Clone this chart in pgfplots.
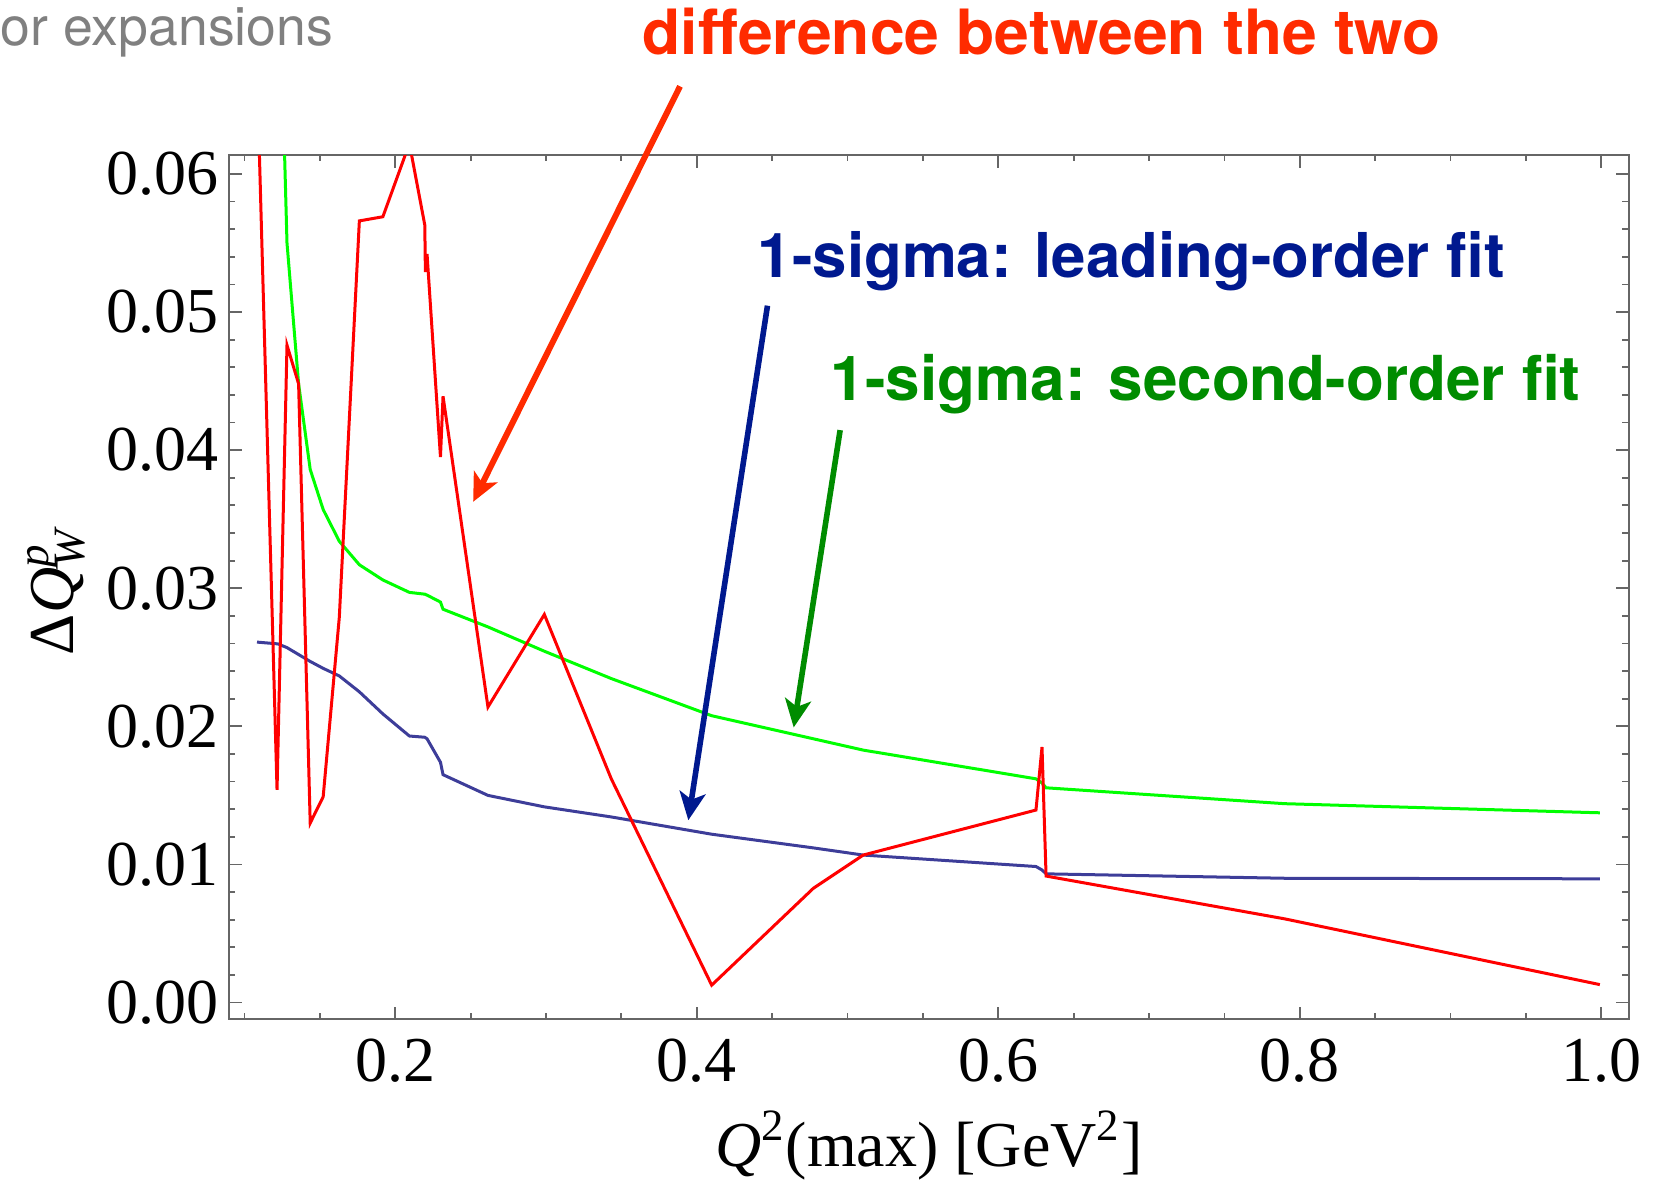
\documentclass[border=0pt]{standalone}
\usepackage{fontspec}
\setmainfont{Liberation Serif}
\newfontfamily\helv{TeX Gyre Heros}
\usepackage{pgfplots}
\pgfplotsset{compat=1.18}
\usetikzlibrary{arrows.meta}
\definecolor{lineblue}{rgb}{0.24,0.24,0.6}
\definecolor{linegreen}{rgb}{0,1,0}
\definecolor{linered}{rgb}{1,0,0}
\definecolor{annred}{rgb}{1,0.17,0}
\definecolor{annblue}{rgb}{0,0.1,0.56}
\definecolor{anngreen}{rgb}{0,0.55,0}
\definecolor{framegray}{rgb}{0.4,0.4,0.4}

\pgfplotstableread{
x y
0.1083 0.0677
0.1216 0.0154
0.1282 0.0476
0.1359 0.0448
0.1436 0.0130
0.1522 0.0149
0.1629 0.0279
0.1762 0.0566
0.1918 0.0569
0.2094 0.0622
0.2196 0.0563
0.2200 0.0529
0.2211 0.0542
0.2300 0.0395
0.2317 0.0439
0.2615 0.0214
0.2989 0.0281
0.3433 0.0162
0.4099 0.00126
0.4773 0.00827
0.5104 0.01068
0.6250 0.01394
0.6290 0.0185
0.6317 0.00916
0.7900 0.00606
0.9990 0.0013
}\diffdata

\pgfplotstableread{
x y
0.1083 0.0261
0.1222 0.02597
0.1282 0.0257
0.1359 0.0252
0.1436 0.0247
0.1522 0.0242
0.1629 0.02365
0.1762 0.0225
0.1918 0.0209
0.2094 0.0193
0.2196 0.01921
0.2211 0.0191
0.2300 0.0174
0.2317 0.0165
0.2615 0.0150
0.2989 0.01417
0.3433 0.01344
0.4099 0.01219
0.4773 0.0112
0.5104 0.01068
0.6250 0.00985
0.6290 0.0096
0.6317 0.00932
0.7900 0.0090
0.9990 0.00896
}\lodata

\pgfplotstableread{
x y
0.1222 0.0790
0.1282 0.0550
0.1359 0.0448
0.1436 0.0386
0.1522 0.0357
0.1629 0.0334
0.1762 0.0317
0.1918 0.0306
0.2094 0.0297
0.2196 0.02957
0.2211 0.0295
0.2300 0.0290
0.2317 0.02848
0.2615 0.0272
0.2989 0.02544
0.3433 0.02346
0.4099 0.02077
0.4773 0.0191
0.5104 0.01828
0.6250 0.0162
0.6290 0.0159
0.6317 0.01555
0.7900 0.0144
0.9990 0.01374
}\sodata

\begin{document}
\begin{tikzpicture}[x=1pt,y=1pt]
\path[use as bounding box] (0,0) rectangle (413.25,295.5);
\begin{axis}[
  at={(57.2pt,40.65pt)}, anchor=south west,
  width=350pt, height=216.1pt, scale only axis,
  xmin=0.0896, xmax=1.0182, ymin=-0.00122, ymax=0.06137,
  clip mode=individual,
  xtick={0.2,0.4,0.6,0.8,1.0},
  minor xtick={0.1,0.15,0.25,0.3,0.35,0.45,0.5,0.55,0.65,0.7,0.75,0.85,0.9,0.95},
  ytick={0,0.01,0.02,0.03,0.04,0.05,0.06},
  minor y tick num=4,
  tick align=inside,
  major tick length=3.2pt, minor tick length=1.6pt,
  axis line style={framegray, line width=0.5pt},
  every tick/.style={framegray, line width=0.45pt},
  scaled y ticks=false, scaled x ticks=false,
  /pgf/number format/assume math mode=true,
  xticklabel style={/pgf/number format/fixed, /pgf/number format/fixed zerofill, /pgf/number format/precision=1, anchor=north, inner sep=0pt, yshift=-4.7pt},
  yticklabel style={/pgf/number format/fixed, /pgf/number format/fixed zerofill, /pgf/number format/precision=2, anchor=east, inner sep=0pt, xshift=-2.4pt},
  tick label style={font=\fontsize{16}{19}\selectfont},
]
\addplot[linegreen, line width=0.75pt] table {\sodata};
\addplot[lineblue, line width=0.75pt] table {\lodata};
\addplot[linered, line width=0.75pt] table {\diffdata};

\draw[annred, line width=1.5pt, -{Stealth[length=7pt, width=6.5pt, inset=1.8pt]}]
  (axis cs:0.3889,0.06634) -- (axis cs:0.2517,0.03626);
\draw[annblue, line width=1.4pt, -{Stealth[length=7pt, width=6.5pt, inset=1.8pt]}]
  (axis cs:0.4469,0.05046) -- (axis cs:0.3944,0.0132);
\draw[anngreen, line width=1.4pt, -{Stealth[length=7pt, width=6.5pt, inset=1.8pt]}]
  (axis cs:0.4951,0.04145) -- (axis cs:0.4643,0.01992);
\end{axis}

\node[anchor=base, inner sep=0pt, font=\fontsize{16}{19}\selectfont]
  at (232.2,4) {\textit{Q}\textsuperscript{2}(max) [GeV\textsuperscript{2}]};
\node[rotate=90, anchor=base, inner sep=0pt, font=\fontsize{16}{19}\selectfont]
  at (18.45,148) {Δ\textit{Q}\rlap{\textsuperscript{\textit{p}}}\textsubscript{\textit{W}}};

\node[anchor=base west, inner sep=0pt, text=black!50, font=\helv\fontsize{13.4}{15}\selectfont]
  at (0,284.2) {or expansions};
\node[anchor=base west, inner sep=0pt, text=annred, font=\helv\bfseries\fontsize{15.6}{18}\selectfont]
  at (160.5,281.8) {difference between the two};
\node[anchor=base west, inner sep=0pt, text=annblue, font=\helv\bfseries\fontsize{15.45}{18}\selectfont]
  at (189.25,226.25) {1-sigma: leading-order fit};
\node[anchor=base west, inner sep=0pt, text=anngreen, font=\helv\bfseries\fontsize{15.5}{18}\selectfont]
  at (207.5,195.35) {1-sigma: second-order fit};
\end{tikzpicture}
\end{document}
